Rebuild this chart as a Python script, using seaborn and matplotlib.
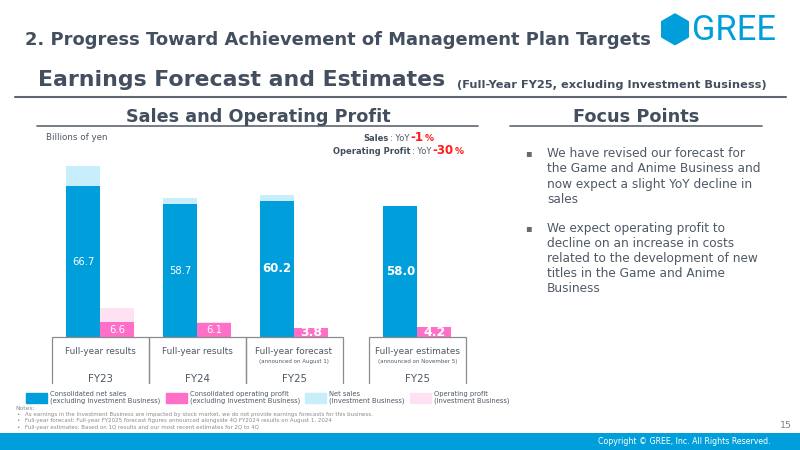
import numpy as np
import pandas as pd
import seaborn as sns
import matplotlib
matplotlib.use("Agg")
import matplotlib.pyplot as plt
from matplotlib.patches import Patch, Rectangle, Polygon
from matplotlib.lines import Line2D

# ---- data (billions of yen) ----
periods = ["FY23", "FY24", "FY25", "FY25"]
period_kind = ["Full-year results", "Full-year results", "Full-year forecast", "Full-year estimates"]
period_note = ["", "", "(announced on August 1)", "(announced on November 5)"]
sales_ex = [66.7, 58.7, 60.2, 58.0]      # consolidated net sales, excl. investment
sales_inv = [8.8, 2.6, 2.5, 0.0]         # net sales, investment business
profit_ex = [6.6, 6.1, 3.8, 4.2]         # consolidated operating profit, excl. investment
profit_inv = [6.3, 0.4, 0.0, 0.0]        # operating profit, investment business
slot = [0, 1, 2, 3.27]                   # x slot of each group, last one stands apart

BLUE = "#009fdb"
PINK = "#ff6ec7"
LBLUE = "#c8eefc"
LPINK = "#ffe1f4"
DARK = "#434e5e"
TEXT = "#4f5966"
GRAY = "#8c8c8c"

sns.set_theme(style="white")
plt.rcParams["font.family"] = ["DejaVu Sans"]

W, H = 800, 450
fig = plt.figure(figsize=(8, 4.5), dpi=100)
fig.patch.set_facecolor("white")
renderer = fig.canvas.get_renderer()


def fx(x):
    return x / W


def fy(y):
    return 1 - y / H


def put(x, y, s, width=None, **kw):
    t = fig.text(fx(x), fy(y), s, **kw)
    if width:
        w = t.get_window_extent(renderer).width
        t.set_fontsize(t.get_fontsize() * width / w)
    return t


def hline(x0, x1, y, **kw):
    fig.add_artist(Line2D([fx(x0), fx(x1)], [fy(y), fy(y)], **kw))


# ---- headings ----
put(25, 40, "2. Progress Toward Achievement of Management Plan Targets", width=620,
    fontsize=13, weight="bold", color=DARK, va="center")
ang = np.deg2rad(90 + 60 * np.arange(6))
hexa = Polygon(np.c_[fx(675 + 15 * np.cos(ang)), fy(29.3 - 15 * np.sin(ang))],
               closed=True, transform=fig.transFigure, color=BLUE, joinstyle="round", lw=1.5)
fig.add_artist(hexa)
put(692, 30, "GREE", width=84, fontsize=20, family="Roboto", color=BLUE, va="center")

put(38, 80, "Earnings Forecast and Estimates", width=407, fontsize=16,
    weight="bold", color=DARK, va="center")
put(457, 85, "(Full-Year FY25, excluding Investment Business)", width=309, fontsize=7,
    weight="bold", color=DARK, va="center")
hline(15, 786, 97, color="#5f6670", lw=1.5)

put(258, 117, "Sales and Operating Profit", width=262, fontsize=13, weight="bold",
    color=DARK, ha="center", va="center")
hline(37, 478, 126, color="#5f6670", lw=1.2)
put(636.5, 117, "Focus Points", width=125, fontsize=13, weight="bold",
    color=DARK, ha="center", va="center")
hline(510, 762, 126, color="#5f6670", lw=1.2)

put(46, 137, "Billions of yen", width=62, fontsize=6.5, color=TEXT, va="center")


def yoy_line(y, parts, center=399):
    texts, x = [], 0
    for s, kw in parts:
        t = put(x, y, s, va="baseline", **kw)
        texts.append(t)
        x += t.get_window_extent(renderer).width + 1
    x0 = center - x / 2
    for t in texts:
        px, py = t.get_position()
        t.set_position((px + fx(x0), py))


yoy_line(141, [("Sales", dict(fontsize=6, weight="bold", color=DARK)),
               (": YoY", dict(fontsize=6, color=TEXT)),
               ("-1", dict(fontsize=8.5, weight="bold", color="#ff1a1a")),
               ("%", dict(fontsize=6.5, weight="bold", color="#ff1a1a"))])
yoy_line(154.5, [("Operating Profit", dict(fontsize=6, weight="bold", color=DARK)),
                 (": YoY", dict(fontsize=6, color=TEXT)),
                 ("-30", dict(fontsize=8.5, weight="bold", color="#ff1a1a")),
                 ("%", dict(fontsize=6.5, weight="bold", color="#ff1a1a"))])

# ---- bar chart ----
ax = fig.add_axes([fx(40), fy(337), 440 / W, 181 / H])
df = pd.DataFrame({
    "slot": slot * 2,
    "series": ["sales"] * 4 + ["profit"] * 4,
    "main": sales_ex + profit_ex,
    "inv": sales_inv + profit_inv,
})
df["total"] = df["main"] + df["inv"]

common = dict(x="slot", hue="series", hue_order=["sales", "profit"], native_scale=True,
              width=0.7, saturation=1, linewidth=0, errorbar=None, legend=False, ax=ax)
sns.barplot(df, y="total", palette=[LBLUE, LPINK], **common)
sns.barplot(df, y="main", palette=[BLUE, PINK], **common)

sales_lbl = ax.bar_label(ax.containers[2], labels=[f"{v:.1f}" for v in sales_ex],
                         label_type="center", color="white", fontsize=7.2)
profit_lbl = ax.bar_label(ax.containers[3], labels=[f"{v:.1f}" for v in profit_ex],
                          label_type="center", color="white", fontsize=7.2)
for t in sales_lbl[2:]:
    t.set_fontweight("bold")
    t.set_fontsize(8.5)
for t in profit_lbl[2:]:
    t.set_fontweight("bold")
    t.set_fontsize(9)

ax.set_xlim((40 - 100) / 97, (480 - 100) / 97)
ax.set_ylim(0, 80)
ax.set_axis_off()

# period boxes under the bars
tr = ax.get_xaxis_transform()


def ay(ypx):
    return (337 - ypx) / 181


for s, kind, note, per in zip(slot, period_kind, period_note, periods):
    ax.plot([s - 0.5, s - 0.5, s + 0.5, s + 0.5], [ay(383), 0, 0, ay(383)], transform=tr,
            color=GRAY, lw=0.9, clip_on=False, solid_joinstyle="miter")
    ax.text(s, ay(352), kind, transform=tr, ha="center", va="center", fontsize=6.4, color=TEXT)
    if note:
        ax.text(s, ay(361), note, transform=tr, ha="center", va="center", fontsize=4, color=TEXT)
    ax.text(s, ay(379), per, transform=tr, ha="center", va="center", fontsize=7.4, color=TEXT)

# legend
handles = [Patch(color=c) for c in [BLUE, PINK, LBLUE, LPINK]]
labels = ["Consolidated net sales\n(excluding Investment Business)",
          "Consolidated operating profit\n(excluding Investment Business)",
          "Net sales\n(Investment Business)",
          "Operating profit\n(Investment Business)"]
fig.legend(handles, labels, ncol=4, loc="upper left", bbox_to_anchor=(fx(26), fy(391)),
           frameon=False, fontsize=4.9, handlelength=3.1, handleheight=1.75,
           handletextpad=0.45, columnspacing=0.75, borderpad=0, borderaxespad=0,
           labelcolor=TEXT, labelspacing=0)

# notes
put(15, 409, "Notes:", fontsize=4.3, color="#8a8a8a", va="center")
notes = ["As earnings in the Investment Business are impacted by stock market, we do not provide earnings forecasts for this business.",
         "Full-year forecast: Full-year FY2025 forecast figures announced alongside 4Q FY2024 results on August 1, 2024",
         "Full-year estimates: Based on 1Q results and our most recent estimates for 2Q to 4Q"]
note_size = None
for y, s in zip([414.5, 420.9, 427.3], notes):
    put(17.5, y, "\u2022", fontsize=4, color="#8a8a8a", va="center", ha="center")
    if note_size is None:
        t = put(25, y, s, width=353, fontsize=4.5, color="#8a8a8a", va="center")
        note_size = t.get_fontsize()
    else:
        put(25, y, s, fontsize=note_size, color="#8a8a8a", va="center")

# ---- focus points ----
block1 = ["We have revised our forecast for", "the Game and Anime Business and",
          "now expect a slight YoY decline in", "sales"]
block2 = ["We expect operating profit to", "decline on an increase in costs",
          "related to the development of new", "titles in the Game and Anime", "Business"]
t = put(547, 188, block1[1], width=214, fontsize=8, color=TEXT, va="baseline")
fsz = t.get_fontsize()
t.remove()
for y0, block in [(157.3, block1), (231.8, block2)]:
    put(528, y0 - 3.8, "\u25aa", fontsize=7, color="#6a6a6a", va="center", ha="center")
    for i, line in enumerate(block):
        put(547, y0 + i * 15.1, line, fontsize=fsz, color=TEXT, va="baseline")

# ---- footer ----
fig.add_artist(Rectangle((0, 0), 1, (450 - 433) / H, transform=fig.transFigure,
                         color=BLUE, lw=0))
put(771, 442, "Copyright \u00a9 GREE, Inc. All Rights Reserved.", width=174, fontsize=6.5,
    color="white", ha="right", va="center")
put(792, 425.5, "15", fontsize=6.8, color="#808080", ha="right", va="center")

fig.savefig("out.png", dpi=100, facecolor="white")
